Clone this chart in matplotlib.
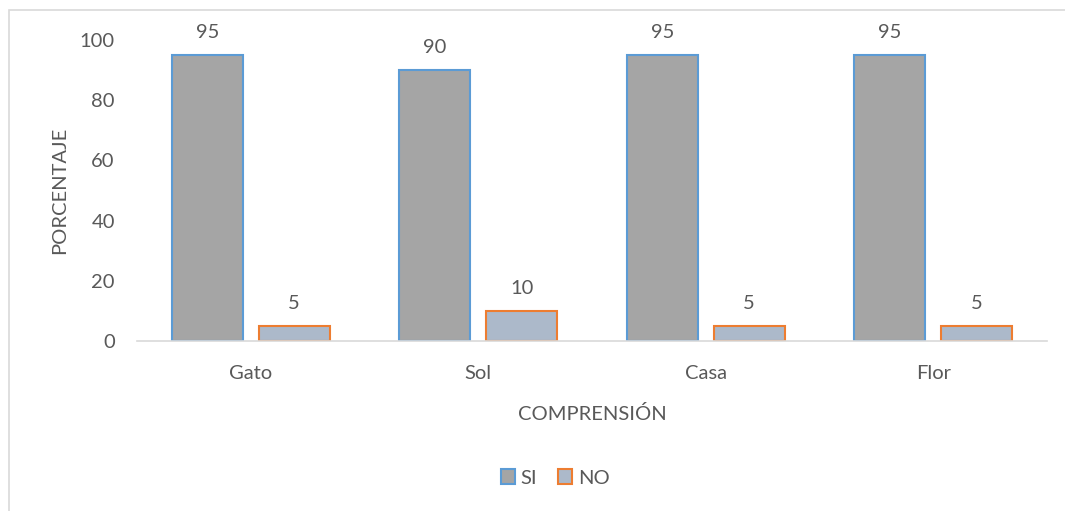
import matplotlib.pyplot as plt
import numpy as np
from matplotlib.patches import Rectangle

categories = ['Gato', 'Sol', 'Casa', 'Flor']
si_values = [95, 90, 95, 95]
no_values = [5, 10, 5, 5]

TEXT = '#595959'
FS = 14.5
plt.rcParams['font.family'] = ['Lato', 'DejaVu Sans']

fig = plt.figure(figsize=(10.65, 5.11), dpi=100)
ax = fig.add_axes([137 / 1065, 1 - 341 / 511, 910 / 1065, 301 / 511])

# outer chart border (left/top visible)
fig.patches.append(Rectangle((9 / 1065, -0.1), 1.2, (511 - 10) / 511 + 0.1,
                             transform=fig.transFigure, fill=False,
                             edgecolor='#D9D9D9', linewidth=1.2))

x = np.arange(len(categories))
w = 0.312
off = 0.191
b1 = ax.bar(x - off, si_values, w, color='#A5A5A5', edgecolor='#5B9BD5',
            linewidth=1.5, label='SI')
b2 = ax.bar(x + off, no_values, w, color='#ACB9CA', edgecolor='#ED7D31',
            linewidth=1.5, label='NO')

for bars in (b1, b2):
    ax.bar_label(bars, padding=10, color=TEXT, fontsize=FS, clip_on=False)

ax.set_xlim(-0.5, 3.5)
ax.set_ylim(0, 100)
ax.set_yticks(range(0, 101, 20))
ax.set_xticks(x)
ax.set_xticklabels(categories)
ax.tick_params(length=0, colors=TEXT, labelsize=FS)
ax.tick_params(axis='y', pad=16)
ax.tick_params(axis='x', pad=17)
for s in ['top', 'right', 'left']:
    ax.spines[s].set_visible(False)
ax.spines['bottom'].set_color('#D9D9D9')
ax.spines['bottom'].set_linewidth(1.2)

ax.set_xlabel('COMPRENSIÓN', color=TEXT, fontsize=FS, labelpad=17)
ax.set_ylabel('PORCENTAJE', color=TEXT, fontsize=FS, labelpad=8)

fig.legend(handles=[b1, b2], labels=['SI', 'NO'], loc='center',
           bbox_to_anchor=(555 / 1065, 1 - 478 / 511), ncol=2, frameon=False,
           fontsize=FS, labelcolor=TEXT, handlelength=0.7, handleheight=0.7,
           handletextpad=0.3, columnspacing=1.0)

fig.savefig('out.png', dpi=100)
